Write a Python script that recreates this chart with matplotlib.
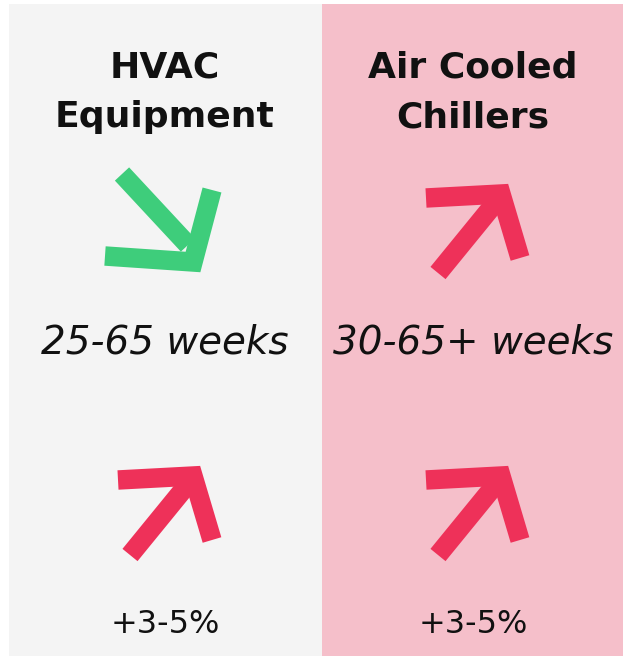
import matplotlib
matplotlib.use("Agg")
import matplotlib.pyplot as plt
from matplotlib.patches import Rectangle

# ---- data ----
categories = ["HVAC Equipment", "Air Cooled Chillers"]
title_lines = [["HVAC", "Equipment"], ["Air Cooled", "Chillers"]]
lead_times = ["25-65 weeks", "30-65+ weeks"]
lead_trend = ["down", "up"]
price_changes = ["+3-5%", "+3-5%"]
price_trend = ["up", "up"]

# ---- style ----
W, H = 623, 656
panel_colors = ["#f4f4f4", "#f5bfca"]
trend_colors = {"down": "#3ecd7b", "up": "#ee3159"}
col_x = [9, 322, 623]
col_centers = [165, 473]

fig = plt.figure(figsize=(W / 100, H / 100), dpi=100)
ax = fig.add_axes([0, 0, 1, 1])
ax.set_xlim(0, W)
ax.set_ylim(H, 0)
ax.axis("off")
fig.patch.set_facecolor("white")

for i in range(len(categories)):
    ax.add_patch(Rectangle((col_x[i], 4), col_x[i + 1] - col_x[i], H - 4,
                           facecolor=panel_colors[i], edgecolor="none", zorder=0))

# arrow icon templates (offsets from icon centre, pixels)
ARROWS = {
    "up": {"shaft": [(-35, 43), (27, -33)],
           "head": [(-47, -32), (28, -36), (47, 28)]},
    "down": {"shaft": [(-43, -46), (23, 25)],
             "head": [(-60, 36), (28, 42), (47, -30)]},
}


def draw_arrow(cx, cy, kind):
    tpl = ARROWS[kind]
    c = trend_colors[kind]
    xs = [cx + p[0] for p in tpl["shaft"]]
    ys = [cy + p[1] for p in tpl["shaft"]]
    ax.plot(xs, ys, color=c, lw=14, solid_capstyle="butt", zorder=2)
    xs = [cx + p[0] for p in tpl["head"]]
    ys = [cy + p[1] for p in tpl["head"]]
    ax.plot(xs, ys, color=c, lw=14, solid_capstyle="butt",
            solid_joinstyle="miter", zorder=2)


FONT = "DejaVu Sans"
for i in range(len(categories)):
    cx = col_centers[i]
    l1, l2 = title_lines[i]
    ax.text(cx, 78, l1, ha="center", va="baseline", fontsize=26,
            fontweight="bold", family=FONT, color="#111111")
    ax.text(cx, 127, l2, ha="center", va="baseline", fontsize=26,
            fontweight="bold", family=FONT, color="#111111")
    draw_arrow(cx, 220 if lead_trend[i] == "down" else 230, lead_trend[i])
    ax.text(cx, 353, lead_times[i], ha="center", va="baseline", fontsize=28,
            style="italic", family=FONT, color="#111111")
    draw_arrow(cx, 512, price_trend[i])
    ax.text(cx, 633, price_changes[i], ha="center", va="baseline", fontsize=23,
            family=FONT, color="#111111")

fig.savefig("out.png", dpi=100, facecolor="white")
